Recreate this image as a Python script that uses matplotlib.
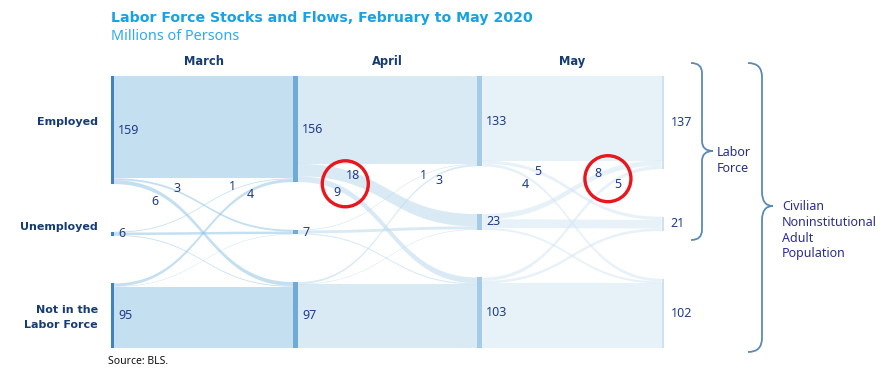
import matplotlib
matplotlib.use("Agg")
import matplotlib.pyplot as plt
from matplotlib.patches import Rectangle, Polygon, Ellipse, PathPatch
from matplotlib.path import Path
import numpy as np

plt.rcParams['font.family'] = ['Noto Sans', 'DejaVu Sans']
BOLD = ['DejaVu Sans']

# ---- data (millions of persons) ----
states = ["Employed", "Unemployed", "Not in the\nLabor Force"]
months = ["March", "April", "May"]

# stocks: February, March, April, May  (E, U, N)
stock_feb = [159, 6, 95]
stock_mar = [156, 7, 97]
stock_apr = [133, 23, 103]
stock_may = [137, 21, 102]

# gross flows, row = from (E, U, N), column = to (E, U, N)
flows_mar = [[150.5, 2.8, 5.7],
             [1.2, 3.6, 1.2],
             [4.3, 0.6, 90.1]]
flows_apr = [[129.2, 18.2, 8.6],
             [1.1, 4.2, 1.7],
             [2.7, 0.9, 93.4]]
flows_may = [[124.3, 4.6, 4.1],
             [7.7, 12.6, 3.0],
             [5.0, 3.8, 94.9]]

# flows that get a number: (period, from, to)
labelled = [(0, 0, 2), (0, 0, 1), (0, 1, 0), (0, 2, 0),
            (1, 0, 1), (1, 0, 2), (1, 1, 0), (1, 2, 0),
            (2, 0, 1), (2, 0, 2), (2, 1, 0), (2, 2, 0)]
# where those numbers sit (column units, millions)
label_pos = [(0.236, 184), (0.356, 165), (0.655, 163), (0.753, 175),
             (1.313, 146), (1.226, 171), (1.693, 146), (1.780, 154),
             (2.313, 141), (2.247, 159), (2.644, 143), (2.747, 159)]
circled = [(4, 5), (10, 11)]

stocks = [stock_feb, stock_mar, stock_apr, stock_may]
flows = [np.array(flows_mar), np.array(flows_apr), np.array(flows_may)]

# ---- style ----
W, H = 887, 373
SPAN = 400.0                 # vertical extent in millions
BAR = 0.027                  # node bar width in columns
node_colors = ['#3c84bf', '#70abd6', '#a7cbe5', '#cde1f2']
link_colors = ['#94c5e4', '#bad9ed', '#d5e6f4']
LINK_ALPHA = 0.55
navy = '#163c73'
num_color = '#1f3c88'

fig = plt.figure(figsize=(W / 100, H / 100), dpi=100)
ax = fig.add_axes([111.5 / W, 1 - 348 / H, (664 - 111.5) / W, 272 / H])
ax.set_xlim(0, 3)
ax.set_ylim(SPAN, 0)
ax.axis('off')

# node heights like plotly: max(in, out)
heights = []
for c in range(4):
    out_ = flows[c].sum(axis=1) if c < 3 else np.zeros(3)
    in_ = flows[c - 1].sum(axis=0) if c > 0 else np.zeros(3)
    heights.append(np.maximum(out_, in_))

tops = []
for h in heights:
    top_n = SPAN - h[2]
    top_u = (h[0] + top_n) / 2 - h[1] / 2
    tops.append(np.array([0.0, top_u, top_n]))


def band(x0, x1, y0a, y0b, y1a, y1b, n=80):
    t = np.linspace(0, 1, n)
    xm = (x0 + x1) / 2
    bx = (1 - t)**3 * x0 + 3 * (1 - t)**2 * t * xm + 3 * (1 - t) * t**2 * xm + t**3 * x1

    def by(ya, yb):
        return ((1 - t)**3 + 3 * (1 - t)**2 * t) * ya + (3 * (1 - t) * t**2 + t**3) * yb
    top = by(y0a, y1a)
    bot = by(y0b, y1b)
    return np.column_stack([np.r_[bx, bx[::-1]], np.r_[top, bot[::-1]]])


# links
for p in range(3):
    f = flows[p]
    # incoming offsets ordered by source
    in_start = np.zeros((3, 3))
    for j in range(3):
        acc = tops[p + 1][j]
        for i in range(3):
            in_start[i, j] = acc
            acc += f[i, j]
    for i in range(3):
        acc = tops[p][i]
        for j in range(3):
            v = f[i, j]
            pts = band(p + BAR / 2, p + 1 - BAR / 2, acc, acc + v,
                       in_start[i, j], in_start[i, j] + v)
            ax.add_patch(Polygon(pts, closed=True, facecolor=link_colors[p],
                                 edgecolor='none', alpha=LINK_ALPHA, zorder=1))
            acc += v

# nodes and stock numbers
for c in range(4):
    for k in range(3):
        ax.add_patch(Rectangle((c - BAR / 2, tops[c][k]), BAR, heights[c][k],
                               facecolor=node_colors[c], edgecolor='none', zorder=3))
        ax.text(c + BAR / 2 + 0.022, tops[c][k] + heights[c][k] / 2,
                str(stocks[c][k]), ha='left', va='center', fontsize=9,
                color=num_color, zorder=4)

# row labels
row_y = [68, 222, 355]
for name, y in zip(states, row_y):
    ax.text(-0.073, y, name, ha='right', va='center', fontsize=8,
            fontweight='bold', family=BOLD, color=navy, linespacing=1.6,
            clip_on=False)

# column headers
for c, m in enumerate(months):
    ax.text(c + 0.5, -22, m, ha='center', va='center', fontsize=8.3,
            fontweight='bold', family=BOLD, color=navy, clip_on=False)

# flow numbers
for (p, i, j), (x, y) in zip(labelled, label_pos):
    ax.text(x, y, str(int(round(flows[p][i, j]))), ha='center', va='center',
            fontsize=9, color=num_color, zorder=5, clip_on=False)

# red circles around two pairs of numbers
for a, b in circled:
    cx = (label_pos[a][0] + label_pos[b][0]) / 2
    cy = (label_pos[a][1] + label_pos[b][1]) / 2
    ax.add_patch(Ellipse((cx, cy), 46 / 184, 46 / 0.68, fill=False,
                         edgecolor='#e8161d', linewidth=2.4, zorder=6,
                         clip_on=False))

# ---- overlay in pixel space for title, braces, notes ----
ov = fig.add_axes([0, 0, 1, 1], zorder=-1)
ov.set_xlim(0, W)
ov.set_ylim(H, 0)
ov.axis('off')

ov.text(111, 22, "Labor Force Stocks and Flows, February to May 2020",
        fontsize=10.2, fontweight='bold', family=BOLD, color='#17a2e6',
        va='baseline')
ov.text(111, 40, "Millions of Persons", fontsize=10.4, color='#2eaaee',
        va='baseline')
ov.text(108, 362, "Source: BLS.", fontsize=7.5, color='#111111', va='center')


def brace(x0, x1, x2, ytop, ybot, ymid, r):
    verts = [(x0, ytop), (x1, ytop), (x1, ytop + r), (x1, ymid - r),
             (x1, ymid), (x2, ymid), (x1, ymid), (x1, ymid + r),
             (x1, ybot - r), (x1, ybot), (x0, ybot)]
    codes = [Path.MOVETO, Path.CURVE3, Path.CURVE3, Path.LINETO,
             Path.CURVE3, Path.CURVE3, Path.CURVE3, Path.CURVE3,
             Path.LINETO, Path.CURVE3, Path.CURVE3]
    ov.add_patch(PathPatch(Path(verts, codes), fill=False,
                           edgecolor='#5d8ab4', linewidth=1.3))


brace(691, 702, 713, 63, 240, 151, 10)
brace(748, 762, 773, 63, 352, 206, 14)
ov.text(717, 160, "Labor\nForce", fontsize=9, color='#2b2e8c',
        va='center', linespacing=1.3)
ov.text(782, 230, "Civilian\nNoninstitutional\nAdult\nPopulation",
        fontsize=9, color='#2b2e8c', va='center', linespacing=1.3)

fig.savefig("out.png", dpi=100)
